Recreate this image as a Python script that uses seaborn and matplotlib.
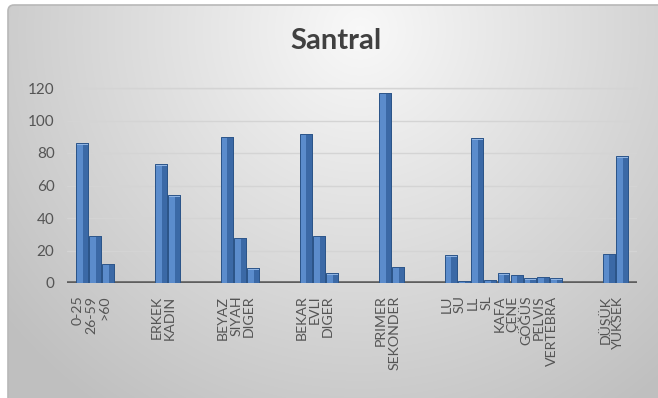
import numpy as np
import pandas as pd
import matplotlib
matplotlib.use("Agg")
import matplotlib.pyplot as plt
import matplotlib.transforms as mtransforms
from matplotlib.patches import Rectangle, FancyBboxPatch
import seaborn as sns

# Category groups and counts
age_labels = ["0-25", "26-59", ">60"]
age_values = [86, 29, 12]
sex_labels = ["ERKEK", "KADIN"]
sex_values = [73, 54]
race_labels = ["BEYAZ", "SIYAH", "DIGER"]
race_values = [90, 28, 9]
marital_labels = ["BEKAR", "EVLI", "DIGER"]
marital_values = [92, 29, 6]
tumor_labels = ["PRIMER", "SEKONDER"]
tumor_values = [117, 10]
site_labels = ["LU", "SU", "LL", "SL", "KAFA", "ÇENE", "GÖĞÜS", "PELVIS", "VERTEBRA"]
site_values = [17, 1, 89, 2, 6, 5, 3, 4, 3]
grade_labels = ["DÜŞÜK", "YÜKSEK"]
grade_values = [18, 78]
y_ticks = [0, 20, 40, 60, 80, 100, 120]
title = "Santral"

groups = [
    (age_labels, age_values),
    (sex_labels, sex_values),
    (race_labels, race_values),
    (marital_labels, marital_values),
    (tumor_labels, tumor_values),
    (site_labels, site_values),
    (grade_labels, grade_values),
]

# Build an ordered category axis with three empty slots between groups
rows, order, shown = [], [], []
for gi, (labels, values) in enumerate(groups):
    for lab, val in zip(labels, values):
        key = f"{gi}:{lab}"
        rows.append({"key": key, "count": val})
        order.append(key)
        shown.append(lab)
    if gi < len(groups) - 1:
        for k in range(3):
            order.append(f"{gi}:gap{k}")
            shown.append("")
df = pd.DataFrame(rows)

sns.set_theme(style="white")
plt.rcParams["font.family"] = ["Lato", "DejaVu Sans"]

W, H = 658, 398
fig = plt.figure(figsize=(W / 100, H / 100), dpi=100)
fig.patch.set_facecolor("white")

# Chart-area background: soft grey radial gradient with rounded frame
bg = fig.add_axes([0, 0, 1, 1], zorder=0)
bg.set_xlim(0, W)
bg.set_ylim(H, 0)
bg.axis("off")
yy, xx = np.mgrid[0:H, 0:W]
r = np.sqrt(((xx - 360) / 430.0) ** 2 + ((yy - 30) / 430.0) ** 2)
shade = np.clip(0.975 - 0.21 * r, 0.75, 0.98)
img = np.dstack([shade, shade, shade])
frame = FancyBboxPatch((8, 5), W + 20, H + 20, boxstyle="round,pad=0,rounding_size=6",
                       transform=bg.transData, facecolor="none",
                       edgecolor="#b8b8b8", lw=1.2)
bg.add_patch(frame)
im = bg.imshow(img, extent=(0, W, H, 0), interpolation="bilinear")
im.set_clip_path(frame)

# Plot area
ax = fig.add_axes([67 / W, (H - 283) / H, 570 / W, 195 / H], zorder=1)
ax.set_facecolor("none")

sns.barplot(data=df, x="key", y="count", order=order, color="#5b8ccc",
            saturation=1, width=0.9, ax=ax, zorder=3,
            edgecolor="#2f5a8f", linewidth=0.6)

# Shaded right face and light top cap give the columns some depth
for p in list(ax.patches):
    x0, w, h = p.get_x(), p.get_width(), p.get_height()
    if h <= 0:
        continue
    ax.add_patch(Rectangle((x0 + w * 0.55, 0), w * 0.45, h, facecolor="#3b69a6",
                           edgecolor="none", zorder=3.5))
    ax.add_patch(Rectangle((x0, h - min(0.9, h * 0.3)), w, min(0.9, h * 0.3),
                           facecolor="#8fb4e3", edgecolor="none", zorder=3.6))
    ax.add_patch(Rectangle((x0, 0), w, h, facecolor="none",
                           edgecolor="#2c5589", lw=0.7, zorder=3.7))

ax.set_xlim(-1.14, len(order) - 1 + 1.14)
ax.set_ylim(0, 120)
ax.set_yticks(y_ticks)
ax.set_yticklabels([str(t) for t in y_ticks])
ax.set_xticks(range(len(order)))
ax.set_xticklabels(shown, rotation=90)
ax.set_xlabel("")
ax.set_ylabel("")

for s in ax.spines.values():
    s.set_visible(False)
ax.yaxis.grid(True, color="#d4d4d4", lw=1.0, zorder=0)
ax.xaxis.grid(False)
ax.axhline(0, color="#5e5e5e", lw=2.6, zorder=2)
ax.axhline(120, color="#d4d4d4", lw=1.0, zorder=0, clip_on=False)

ax.tick_params(axis="y", length=0, pad=9, labelsize=11, labelcolor="#555555")
ax.tick_params(axis="x", length=0, pad=9, labelsize=10.2, labelcolor="#555555")
shift = mtransforms.ScaledTranslation(-4 / 100, 0, fig.dpi_scale_trans)
for lab in ax.get_xticklabels():
    lab.set_transform(lab.get_transform() + shift)
    lab.set_linespacing(1.0)

fig.text(335.5 / W, 1 - 41 / H, title, ha="center", va="center",
         fontsize=21, fontweight="bold", color="#404040")

fig.savefig("out.png", dpi=100, facecolor="white")
